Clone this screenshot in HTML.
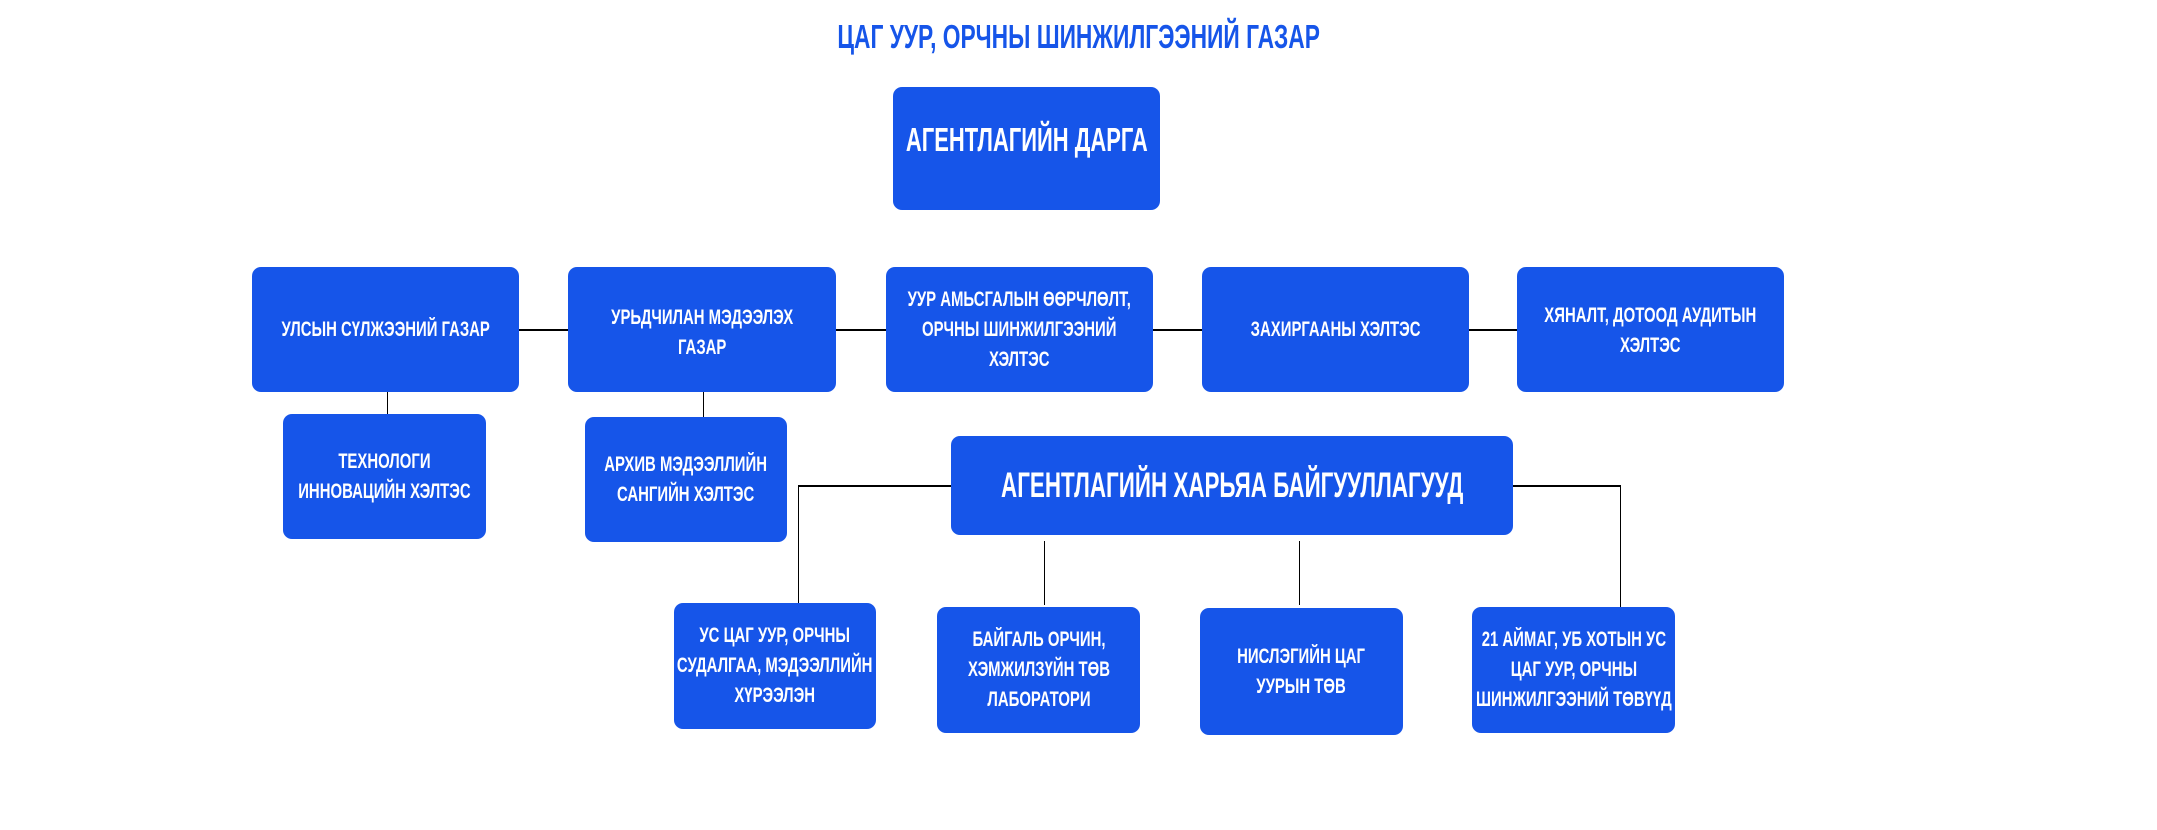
<!DOCTYPE html>
<html><head><meta charset="utf-8"><style>
body{margin:0;width:2157px;height:830px;background:#fff;position:relative;overflow:hidden;font-family:"Liberation Sans",sans-serif;font-weight:bold}
.b{position:absolute;background:#1655e9;border-radius:9px;color:#fff;display:flex;align-items:center;justify-content:center;text-align:center;font-size:21px;line-height:30px;box-sizing:border-box}
.b span,.t span{display:inline-block;white-space:nowrap;transform:scaleX(.71)}
.l{position:absolute;background:#000}
.t{position:absolute;left:0;width:2157px;top:18px;text-align:center;color:#1655e9;font-size:33px}
.t span{transform:scaleX(.69)}
</style></head><body>
<div class="t"><span>ЦАГ УУР, ОРЧНЫ ШИНЖИЛГЭЭНИЙ ГАЗАР</span></div>
<div class="l" style="left:519px;top:329px;width:998px;height:2px"></div>
<div class="l" style="left:387px;top:392px;width:1px;height:22px"></div>
<div class="l" style="left:703px;top:392px;width:1px;height:25px"></div>
<div class="l" style="left:798px;top:485px;width:153px;height:2px"></div>
<div class="l" style="left:798px;top:485px;width:1px;height:120px"></div>
<div class="l" style="left:1513px;top:485px;width:108px;height:2px"></div>
<div class="l" style="left:1620px;top:485px;width:1px;height:122px"></div>
<div class="l" style="left:1044px;top:541px;width:1px;height:64px"></div>
<div class="l" style="left:1299px;top:541px;width:1px;height:64px"></div>
<div class="b" style="left:893px;top:87px;width:267px;height:123px;font-size:33px;align-items:flex-start;padding-top:38px"><span style="transform:scaleX(.665)">АГЕНТЛАГИЙН ДАРГА</span></div>
<div class="b" style="left:252px;top:267px;width:267px;height:125px"><span>УЛСЫН СҮЛЖЭЭНИЙ ГАЗАР</span></div>
<div class="b" style="left:568px;top:267px;width:268px;height:125px;align-items:flex-start;padding-top:36px"><span>УРЬДЧИЛАН МЭДЭЭЛЭХ<br>ГАЗАР</span></div>
<div class="b" style="left:886px;top:267px;width:267px;height:125px"><span>УУР АМЬСГАЛЫН ӨӨРЧЛӨЛТ,<br>ОРЧНЫ ШИНЖИЛГЭЭНИЙ<br>ХЭЛТЭС</span></div>
<div class="b" style="left:1202px;top:267px;width:267px;height:125px"><span>ЗАХИРГААНЫ ХЭЛТЭС</span></div>
<div class="b" style="left:1517px;top:267px;width:267px;height:125px;align-items:flex-start;padding-top:34px"><span>ХЯНАЛТ, ДОТООД АУДИТЫН<br>ХЭЛТЭС</span></div>
<div class="b" style="left:283px;top:414px;width:203px;height:125px"><span>ТЕХНОЛОГИ<br>ИННОВАЦИЙН ХЭЛТЭС</span></div>
<div class="b" style="left:585px;top:417px;width:202px;height:125px"><span>АРХИВ МЭДЭЭЛЛИЙН<br>САНГИЙН ХЭЛТЭС</span></div>
<div class="b" style="left:951px;top:436px;width:562px;height:99px;font-size:35px"><span style="transform:scaleX(.64)">АГЕНТЛАГИЙН ХАРЬЯА БАЙГУУЛЛАГУУД</span></div>
<div class="b" style="left:674px;top:603px;width:202px;height:126px"><span>УС ЦАГ УУР, ОРЧНЫ<br>СУДАЛГАА, МЭДЭЭЛЛИЙН<br>ХҮРЭЭЛЭН</span></div>
<div class="b" style="left:937px;top:607px;width:203px;height:126px"><span>БАЙГАЛЬ ОРЧИН,<br>ХЭМЖИЛЗҮЙН ТӨВ<br>ЛАБОРАТОРИ</span></div>
<div class="b" style="left:1200px;top:608px;width:203px;height:127px"><span>НИСЛЭГИЙН ЦАГ<br>УУРЫН ТӨВ</span></div>
<div class="b" style="left:1472px;top:607px;width:203px;height:126px"><span>21 АЙМАГ, УБ ХОТЫН УС<br>ЦАГ УУР, ОРЧНЫ<br>ШИНЖИЛГЭЭНИЙ ТӨВҮҮД</span></div>
</body></html>
